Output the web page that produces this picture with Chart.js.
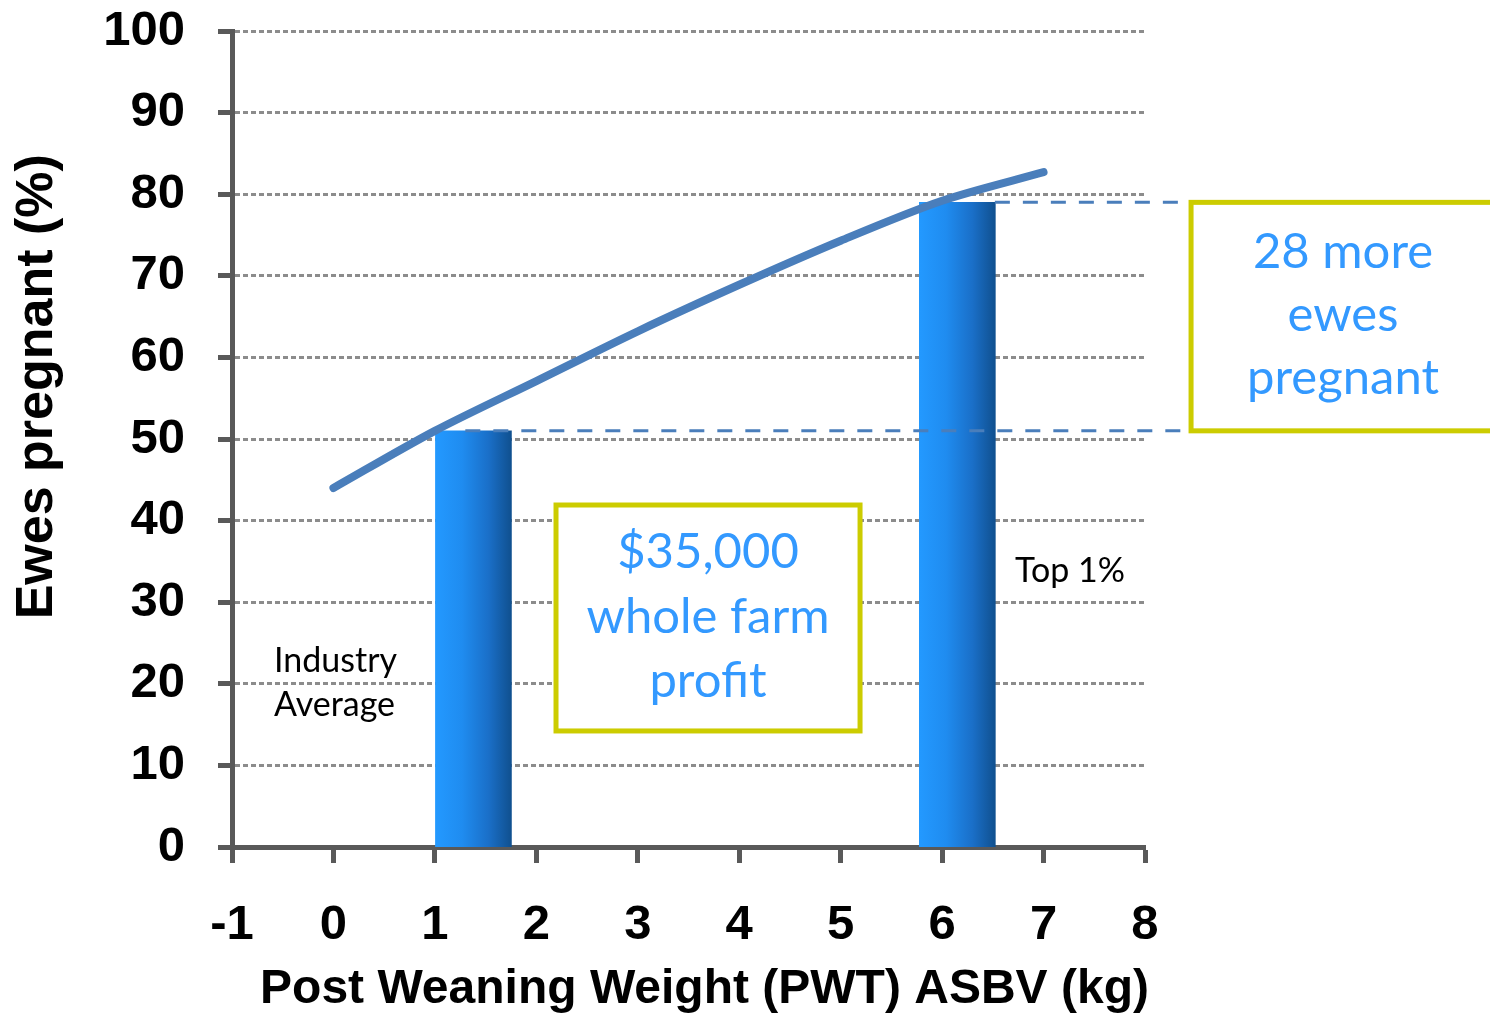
<!DOCTYPE html>
<html>
<head>
<meta charset="utf-8">
<script src="https://cdn.jsdelivr.net/npm/chart.js@4.4.0/dist/chart.umd.min.js"></script>
<style>
html,body{margin:0;padding:0;background:#fff;}
#wrap{width:1490px;height:1017px;position:relative;}
</style>
</head>
<body>
<div id="wrap"><canvas id="c"></canvas></div>
<script>
// ---- data ----
const lineX = [0, 1, 2, 3, 4, 5, 6, 7];
const lineY = [44, 51, 57.1, 63.2, 68.9, 74.3, 79.2, 82.7];
const barLabels = ['Industry Average', 'Top 1%'];
const barX = [1.38, 6.15];
const barY = [51, 79];
const xMin = -1, xMax = 8, yMin = 0, yMax = 100;
const yTitle = 'Ewes pregnant (%)';
const xTitle = 'Post Weaning Weight (PWT) ASBV (kg)';
const gapText = ['28 more', 'ewes', 'pregnant'];
const profitText = ['$35,000', 'whole farm', 'profit'];
const industryText = ['Industry', 'Average'];
const topText = ['Top 1%'];

const SANS = "'Liberation Sans', Arial, sans-serif";
const CAL = "Lato, 'Open Sans', sans-serif";

const annot = {
  id: 'annot',
  afterDatasetsDraw(chart) {
    const {ctx, scales: {x, y}, chartArea} = chart;
    const X = v => x.getPixelForValue(v), Y = v => y.getPixelForValue(v);
    ctx.save();
    // dashed reference lines
    ctx.strokeStyle = '#4a7ebb';
    ctx.lineWidth = 3;
    ctx.setLineDash([15, 13]);
    ctx.beginPath();
    ctx.moveTo(X(1.3), Y(barY[0])); ctx.lineTo(X(8.454), Y(barY[0]));
    ctx.moveTo(X(6.52), Y(barY[1])); ctx.lineTo(X(8.454), Y(barY[1]));
    ctx.stroke();
    ctx.setLineDash([]);
    // boxes
    const box = (x1, y1, x2, y2) => {
      ctx.fillStyle = '#fff';
      ctx.fillRect(X(x1), Y(y1), X(x2) - X(x1), Y(y2) - Y(y1));
      ctx.strokeStyle = '#cccc00';
      ctx.lineWidth = 5;
      ctx.strokeRect(X(x1), Y(y1), X(x2) - X(x1), Y(y2) - Y(y1));
    };
    box(2.194, 41.91, 5.191, 14.22);
    box(8.454, barY[1], 11.45, barY[0]);
    // texts
    ctx.textBaseline = 'alphabetic';
    ctx.fillStyle = '#3399ff';
    ctx.font = '49px ' + CAL;
    ctx.textAlign = 'center';
    const pb = [34.19, 26.23, 18.38];
    profitText.forEach((t, i) => ctx.fillText(t, X(3.692), Y(pb[i])));
    const gb = [70.96, 63.24, 55.51];
    gapText.forEach((t, i) => ctx.fillText(t, X(9.952), Y(gb[i])));
    ctx.fillStyle = '#000';
    ctx.font = '34px ' + CAL;
    ctx.textAlign = 'left';
    const ib = [21.45, 16.05];
    industryText.forEach((t, i) => ctx.fillText(t, X(-0.586), Y(ib[i])));
    ctx.fillText(topText[0], X(6.719), Y(32.48));
    // axis titles
    ctx.fillStyle = '#000';
    ctx.textBaseline = 'middle';
    ctx.textAlign = 'center';
    ctx.font = 'bold 48px ' + SANS;
    ctx.fillText(xTitle, (chartArea.left + chartArea.right) / 2 + 16, 990);
    ctx.save();
    ctx.translate(38, Y(56.4));
    ctx.rotate(-Math.PI / 2);
    ctx.font = 'bold 52px ' + SANS;
    ctx.fillText(yTitle, 0, 0);
    ctx.restore();
    ctx.restore();
  }
};

const barGrad = (c) => {
  const ch = c.chart;
  if (c.dataIndex === undefined || !ch.chartArea) return '#1e88e8';
  const cx = ch.scales.x.getPixelForValue(barX[c.dataIndex]);
  const g = ch.ctx.createLinearGradient(cx - 38, 0, cx + 38, 0);
  g.addColorStop(0, '#2399ff');
  g.addColorStop(0.35, '#1f8cf0');
  g.addColorStop(0.7, '#1a6fc8');
  g.addColorStop(1, '#10508f');
  return g;
};

new Chart(document.getElementById('c'), {
  type: 'bar',
  data: {
    datasets: [
      {
        type: 'line',
        label: 'Ewes pregnant',
        data: lineX.map((v, i) => ({x: v, y: lineY[i]})),
        borderColor: '#4a7ebb',
        borderWidth: 8,
        borderCapStyle: 'round',
        borderJoinStyle: 'round',
        pointRadius: 0,
        tension: 0.3,
        fill: false,
        order: 0
      },
      {
        type: 'bar',
        label: 'Flock',
        data: barX.map((v, i) => ({x: v, y: barY[i]})),
        backgroundColor: barGrad,
        borderWidth: 0,
        barThickness: 76,
        base: -0.75,
        order: 1
      }
    ]
  },
  options: {
    responsive: true,
    maintainAspectRatio: false,
    animation: false,
    layout: {padding: {top: 31, right: 345, bottom: 0, left: 0}},
    plugins: {legend: {display: false}, tooltip: {enabled: false}, title: {display: false}},
    scales: {
      x: {
        type: 'linear',
        min: xMin, max: xMax,
        offset: false,
        afterFit: s => { s.height = 170; },
        ticks: {stepSize: 1, color: '#000', padding: 33, font: {family: SANS, size: 49, weight: 'bold'}},
        grid: {offset: false, drawOnChartArea: false, drawTicks: true, tickLength: 16, tickWidth: 5, tickColor: '#595959'},
        border: {display: true, color: '#595959', width: 5}
      },
      y: {
        type: 'linear',
        min: yMin, max: yMax,
        afterFit: s => { s.width = 232; s.paddingTop = 0; s.paddingBottom = 0; },
        ticks: {stepSize: 10, color: '#000', padding: 33, font: {family: SANS, size: 49, weight: 'bold'}},
        grid: {color: '#8c8c8c', lineWidth: 3, drawTicks: true, tickLength: 14, tickWidth: 5, tickColor: '#595959'},
        border: {display: true, color: '#595959', width: 5, dash: [5, 3]}
      }
    }
  },
  plugins: [annot]
});
</script>
</body>
</html>
